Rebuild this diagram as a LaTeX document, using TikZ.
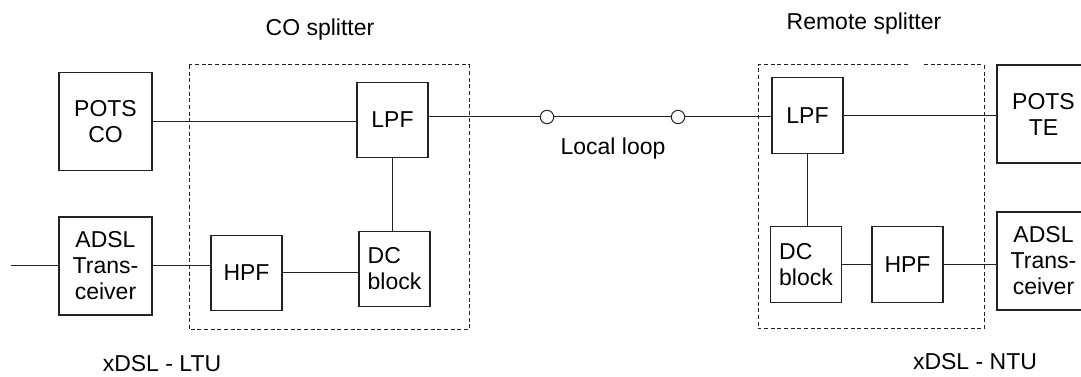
\documentclass[tikz,border=0pt]{standalone}
\usepackage{fontspec}
\setmainfont{Liberation Sans}
\usepackage{xcolor}
\usepackage{tikz}
\definecolor{lineclr}{HTML}{222222}

\begin{document}
\begin{tikzpicture}[x=0.75pt, y=-0.75pt,
  every node/.style={font=\fontsize{17.25}{19.5}\selectfont},
  blk/.style={draw=lineclr, line width=0.8pt, inner sep=0pt, align=center},
  bigblk/.style={blk, minimum width=69.75pt, minimum height=73.5pt},
  filt/.style={blk, minimum width=53.25pt, minimum height=56.5pt},
  tap/.style={draw=lineclr, line width=0.75pt, circle, minimum size=10pt, inner sep=0pt},
  wire/.style={draw=lineclr, line width=0.75pt},
  split/.style={draw=lineclr, line width=0.75pt, dash pattern=on 3pt off 2pt}]
\useasboundingbox (0,0) rectangle (1081,377);

% central office side
\node[bigblk] (potsco) at (105.5,121.5) {POTS\\CO};
\node[bigblk] (adsll) at (105.5,266) {ADSL\\Trans-\\ceiver};
\node[filt] (lpfl) at (392.5,120) {LPF};
\node[filt] (hpfl) at (246.5,273) {HPF};
\node[filt, align=left] (dcl) at (394.5,269) {DC\\block};
\draw[split] (189,65) rectangle (469,330);
\node at (320,30) {CO splitter};
\node at (162,364) {xDSL - LTU};

% remote side
\node[filt] (lpfr) at (807.5,115.5) {LPF};
\node[filt, align=left] (dcr) at (806,264.5) {DC\\block};
\node[filt] (hpfr) at (907.5,264.5) {HPF};
\node[bigblk] (potste) at (1043.5,114) {POTS\\TE};
\node[bigblk] (adslr) at (1043.5,261) {ADSL\\Trans-\\ceiver};
\draw[split] (908,65) -- (758,65) -- (758,329) -- (984,329) -- (984,65) -- (924,65);
\node at (864,24) {Remote splitter};
\node at (975,362) {xDSL - NTU};

% local loop
\node[tap] (ta) at (547,117) {};
\node[tap] (tb) at (678,117) {};
\node at (613,149) {Local loop};

% wiring
\coordinate (lead) at (11,266);
\draw[wire] (potsco.east) -- (lpfl.west |- potsco.east);
\draw[wire] (lpfl.east |- ta) -- (ta.west);
\draw[wire] (ta.east) -- (tb.west);
\draw[wire] (tb.east) -- (lpfr.west |- tb);
\draw[wire] (lpfl.south) -- (dcl.north -| lpfl.south);
\draw[wire] (lead) -- (adsll.west |- lead);
\draw[wire] (adsll.east) -- (hpfl.west |- adsll.east);
\draw[wire] (hpfl.east) -- (dcl.west |- hpfl.east);
\draw[wire] (lpfr.east) -- (potste.west |- lpfr.east);
\draw[wire] (lpfr.south) -- (dcr.north -| lpfr.south);
\draw[wire] (dcr.east) -- (hpfr.west);
\draw[wire] (hpfr.east) -- (adslr.west |- hpfr.east);
\end{tikzpicture}
\end{document}
